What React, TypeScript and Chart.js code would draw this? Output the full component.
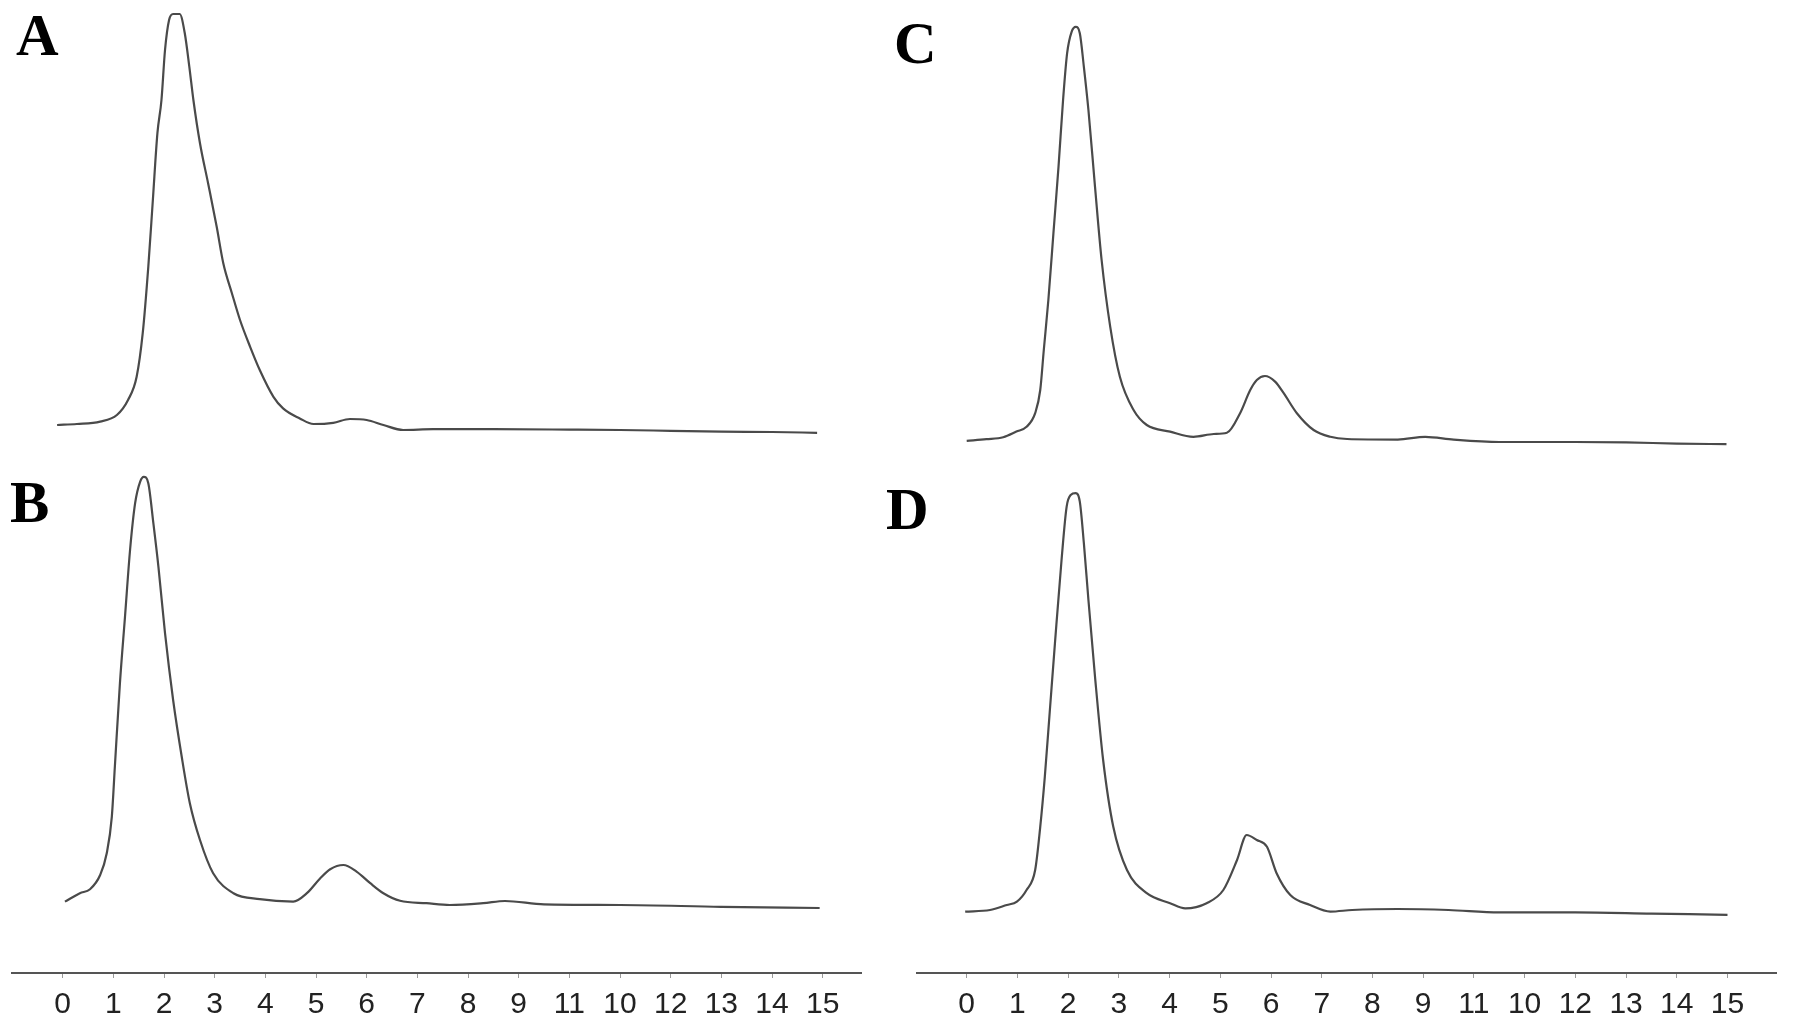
import React, { useEffect, useRef } from "react";
import { Chart, registerables } from "chart.js";

Chart.register(...registerables);

// ---- axis ----
const tickValues = [0, 1, 2, 3, 4, 5, 6, 7, 8, 9, 10, 11, 12, 13, 14, 15];
const tickLabels = ["0", "1", "2", "3", "4", "5", "6", "7", "8", "9", "11", "10", "12", "13", "14", "15"];

// ---- panel A (retention time, min / signal) ----
const timeA = [-0.11, 0.28, 0.74, 1.07, 1.29, 1.46, 1.58, 1.69, 1.78, 1.87, 1.95, 2.02, 2.1, 2.18, 2.31, 2.41, 2.5, 2.58, 2.71, 2.87, 3.04, 3.17, 3.34, 3.5, 3.7, 3.89, 4.16, 4.35, 4.68, 4.95, 5.34, 5.67, 6.0, 6.33, 6.72, 7.31, 8.5, 10, 11, 12, 13, 14, 14.89];
const signalA = [6.25, 6.5, 7.1, 8.75, 12.5, 18.3, 29.2, 45.8, 62.5, 79.2, 87.5, 100, 107.5, 109, 109, 104.2, 95.8, 87.5, 76.7, 66.7, 55.8, 46.7, 39.2, 32.5, 25.8, 20, 13.3, 10.4, 7.9, 6.5, 6.8, 7.75, 7.5, 6.25, 5.0, 5.2, 5.2, 5.1, 5.0, 4.8, 4.6, 4.5, 4.3];

// ---- panel B ----
const timeB = [0.045, 0.34, 0.54, 0.74, 0.87, 0.97, 1.03, 1.13, 1.23, 1.33, 1.43, 1.53, 1.6, 1.69, 1.79, 1.89, 2.02, 2.18, 2.35, 2.51, 2.71, 2.97, 3.37, 3.89, 4.55, 4.82, 5.08, 5.28, 5.54, 5.8, 6.07, 6.33, 6.66, 7.18, 7.64, 8.3, 8.73, 9.5, 11, 13, 14.94];
const signalB = [4.6, 6.7, 7.7, 11.25, 16.7, 25.8, 38.3, 59.2, 75.8, 92.5, 104.2, 109.6, 110.8, 109.2, 99.2, 88.3, 71.7, 55, 40.8, 29.2, 20, 11.7, 6.7, 5.2, 4.6, 6.7, 10.4, 12.7, 13.75, 12.1, 9.2, 6.7, 4.8, 4.2, 3.75, 4.2, 4.75, 3.9, 3.75, 3.3, 3.0];

// ---- panel C ----
const timeC = [0.0, 0.39, 0.72, 0.98, 1.18, 1.35, 1.45, 1.52, 1.61, 1.71, 1.81, 1.9, 1.98, 2.07, 2.15, 2.23, 2.31, 2.4, 2.53, 2.66, 2.83, 3.02, 3.29, 3.55, 4.01, 4.47, 4.87, 5.13, 5.39, 5.59, 5.72, 5.88, 6.08, 6.25, 6.51, 6.84, 7.17, 7.5, 8.5, 9.04, 9.6, 10.5, 12, 13, 14, 14.98];
const signalC = [2.3, 2.7, 3.2, 4.6, 5.8, 9.2, 15, 25, 37.5, 54.2, 70.8, 87.5, 99.2, 104.6, 105.8, 104.2, 95.8, 85, 65.8, 47.5, 30.8, 18.3, 10, 6.25, 4.6, 3.3, 4.0, 4.3, 9.2, 15, 17.5, 18.5, 17.1, 14.2, 9.2, 5.0, 3.3, 2.75, 2.6, 3.3, 2.6, 2.0, 2.0, 1.9, 1.6, 1.45];

// ---- panel D ----
const timeD = [-0.03, 0.46, 0.79, 0.99, 1.18, 1.35, 1.45, 1.54, 1.64, 1.74, 1.87, 1.97, 2.05, 2.15, 2.23, 2.31, 2.4, 2.53, 2.69, 2.89, 3.16, 3.55, 4.01, 4.31, 4.73, 5.06, 5.33, 5.52, 5.72, 5.92, 6.11, 6.38, 6.77, 7.17, 7.6, 8.5, 9.5, 10.5, 12, 13.5, 15.0];
const signalD = [2.1, 2.5, 3.75, 4.6, 7.5, 12.5, 23.3, 35.8, 52.5, 69.2, 90, 103.3, 106.25, 106.7, 104.6, 94.2, 80, 60.8, 40, 23.3, 12.5, 6.7, 4.2, 2.9, 4.2, 7.5, 15, 21.25, 20, 18.3, 11.7, 6.25, 3.75, 2.1, 2.5, 2.75, 2.5, 1.9, 1.9, 1.6, 1.3];

const panelLetters = ["A", "B", "C", "D"];

type Series = { time: number[]; signal: number[] };

const toPoints = (s: Series) => s.time.map((t, i) => ({ x: t, y: s.signal[i] }));

const LINE_COLOR = "#4a4a4a";

function Column(props: {
  upper: Series;
  lower: Series;
  width: number;
  height: number;
  padLeft: number;
  padRight: number;
  xMin: number;
  xMax: number;
}) {
  const ref = useRef<HTMLCanvasElement | null>(null);
  useEffect(() => {
    const canvas = ref.current;
    if (!canvas) return;
    const ds = (s: Series, yAxisID: string) => ({
      data: toPoints(s),
      yAxisID,
      borderColor: LINE_COLOR,
      borderWidth: 2.2,
      pointRadius: 0,
      fill: false,
      clip: false,
      cubicInterpolationMode: "monotone" as const,
    });
    const chart = new Chart(canvas, {
      type: "line",
      data: { datasets: [ds(props.upper, "yTop"), ds(props.lower, "yBottom")] },
      options: {
        responsive: false,
        animation: false,
        devicePixelRatio: 1,
        layout: { padding: { left: props.padLeft, right: props.padRight, top: 0, bottom: 0 } },
        plugins: { legend: { display: false }, tooltip: { enabled: false } },
        events: [],
        scales: {
          x: {
            type: "linear",
            min: props.xMin,
            max: props.xMax,
            position: "bottom",
            afterBuildTicks: (scale: any) => {
              scale.ticks = tickValues.map((v) => ({ value: v }));
            },
            afterFit: (scale: any) => {
              scale.height = 55;
            },
            ticks: {
              autoSkip: false,
              maxRotation: 0,
              padding: 9,
              color: "#222222",
              font: { family: "'Liberation Sans', Arial, sans-serif", size: 30 },
              callback: (_v: any, i: number) => tickLabels[i],
            },
            grid: {
              drawOnChartArea: false,
              drawTicks: true,
              tickLength: 5,
              color: "#9a9a9a",
              lineWidth: 1,
            },
            border: { display: true, color: "#555555", width: 2 },
          },
          yTop: {
            type: "linear",
            position: "left",
            stack: "col",
            stackWeight: 1,
            weight: 2,
            display: false,
            min: -9.125,
            max: 112.5,
          },
          yBottom: {
            type: "linear",
            position: "left",
            stack: "col",
            stackWeight: 1,
            weight: 1,
            display: false,
            min: -13.25,
            max: 108.375,
          },
        },
      } as any,
    });
    return () => chart.destroy();
  }, []);
  return (
    <canvas
      ref={ref}
      width={props.width}
      height={props.height}
      style={{ width: props.width, height: props.height, display: "block" }}
    />
  );
}

const letterStyle: React.CSSProperties = {
  position: "absolute",
  fontFamily: "'Liberation Serif', 'Times New Roman', serif",
  fontWeight: "bold",
  fontSize: 59,
  lineHeight: "59px",
  color: "#000",
  margin: 0,
};

export default function App() {
  return (
    <div
      style={{
        position: "absolute",
        left: 0,
        top: 0,
        width: 1795,
        height: 1028,
        background: "#fff",
        overflow: "hidden",
      }}
    >
      <div style={{ position: "absolute", left: 0, top: 0 }}>
        <Column
          upper={{ time: timeA, signal: signalA }}
          lower={{ time: timeB, signal: signalB }}
          width={880}
          height={1028}
          padLeft={12}
          padRight={18.3}
          xMin={-1.0}
          xMax={15.77}
        />
      </div>
      <div style={{ position: "absolute", left: 880, top: 0 }}>
        <Column
          upper={{ time: timeC, signal: signalC }}
          lower={{ time: timeD, signal: signalD }}
          width={915}
          height={1028}
          padLeft={37.3}
          padRight={18.3}
          xMin={-0.974}
          xMax={15.97}
        />
      </div>
      <div style={{ ...letterStyle, left: 16, top: 6 }}>{panelLetters[0]}</div>
      <div style={{ ...letterStyle, left: 10, top: 473 }}>{panelLetters[1]}</div>
      <div style={{ ...letterStyle, left: 894, top: 14 }}>{panelLetters[2]}</div>
      <div style={{ ...letterStyle, left: 886, top: 480 }}>{panelLetters[3]}</div>
    </div>
  );
}
